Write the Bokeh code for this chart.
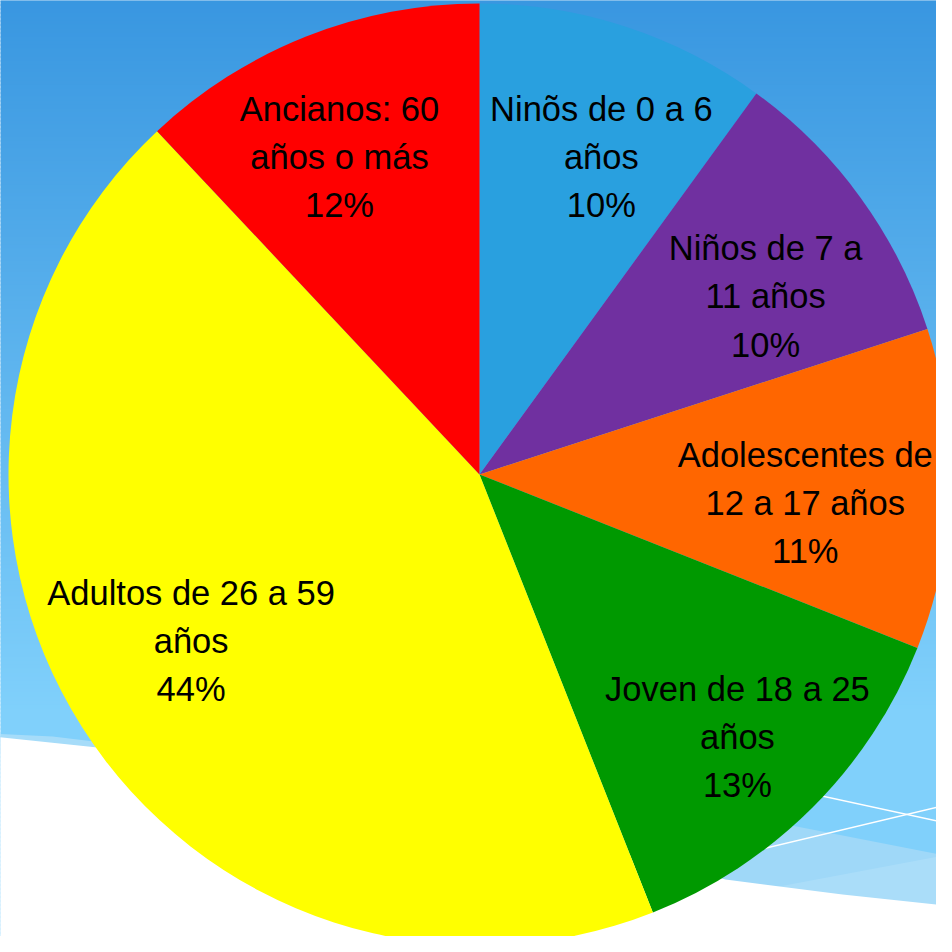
import math
from bokeh.plotting import figure
from bokeh.models import Range1d
from bokeh.core.properties import value
from bokeh.embed import file_html
from bokeh.resources import INLINE

# ---- data ----
categories = [
    "Ninõs de 0 a 6\naños",
    "Niños de 7 a\n11 años",
    "Adolescentes de\n12 a 17 años",
    "Joven de 18 a 25\naños",
    "Adultos de 26 a 59\naños",
    "Ancianos: 60\naños o más",
]
percentages = [10, 10, 11, 13, 44, 12]
colors = ["#29A0DF", "#7030A0", "#FF6600", "#009900", "#FFFF00", "#FF0000"]

# ---- layout / styling (reference pixel space, y flipped) ----
H = 952
def Y(yref):
    return H - yref

CX, CY, R = 487, Y(482), 471
# label placement: distance from centre and angular nudge (deg, clockwise) per slice
LABEL_R = [340, 337, 327, 368, 333, 347]
LABEL_NUDGE = [3.0, 4.1, 3.2, 0.5, 2.4, -2.2]

p = figure(width=936, height=936, output_backend="svg", toolbar_location=None,
           x_range=Range1d(8, 944), y_range=Range1d(8, 944), min_border=0)
p.axis.visible = False
p.grid.visible = False
p.outline_line_color = None
p.background_fill_color = "white"
p.border_fill_color = "white"

# background gradient
top = (56, 150, 224)
bot = (128, 208, 251)
step = 4
lefts, rights, tops, bottoms, cols = [], [], [], [], []
for yy in range(0, H, step):
    t = min(1.0, (yy + step / 2) / 720)
    c = tuple(int(round(a + (b - a) * t)) for a, b in zip(top, bot))
    lefts.append(0); rights.append(H)
    tops.append(Y(yy)); bottoms.append(Y(yy + step + 1))
    cols.append("#%02x%02x%02x" % c)
p.quad(left=lefts, right=rights, top=tops, bottom=bottoms, fill_color=cols, line_color=None)

# lighter bands
p.patch([600, 952, 952, 600], [Y(794), Y(863), Y(952), Y(952)], fill_color="#9FD8F8", line_color=None)
p.patch([600, 952, 952, 600], [Y(929), Y(863), Y(952), Y(952)], fill_color="#AADDF9", line_color=None)
p.patch([0, 60, 110, 110, 0], [Y(741), Y(744), Y(750), Y(760), Y(760)], fill_color="#A6DCF9", line_color=None)
# white wave
wx = [0, 105, 300, 500, 650, 733, 850, 952, 952, 0]
wy = [744, 755, 785, 825, 865, 887, 902, 913, 952, 952]
p.patch(wx, [Y(v) for v in wy], fill_color="white", line_color=None)
# thin white lines
p.line([700, 952], [Y(775.4), Y(830)], line_color="white", line_width=1.5)
p.line([700, 952], [Y(873), Y(813)], line_color="white", line_width=1.5)

# ---- pie ----
total = sum(percentages)
cum = [0.0]
for v in percentages:
    cum.append(cum[-1] + v / total)
starts = [math.pi / 2 - 2 * math.pi * cum[i + 1] for i in range(len(percentages))]
ends = [math.pi / 2 - 2 * math.pi * cum[i] for i in range(len(percentages))]
p.wedge(x=CX, y=CY, radius=R, start_angle=starts, end_angle=ends,
        direction="anticlock", fill_color=colors, line_color=None)

# labels
lx, ly, lt = [], [], []
for i, (name, v) in enumerate(zip(categories, percentages)):
    mid_cw = 360 * (cum[i] + cum[i + 1]) / 2 + LABEL_NUDGE[i]
    a = math.radians(90 - mid_cw)
    lx.append(CX + LABEL_R[i] * math.cos(a))
    ly.append(CY + LABEL_R[i] * math.sin(a))
    lt.append(f"{name}\n{v}%")
p.text(x=lx, y=ly, text=lt, text_font=value("Liberation Sans"),
       text_font_size="34.5px", text_align="center", text_baseline="middle",
       text_line_height=1.27, text_color="black")

open("out.html", "w").write(file_html(p, INLINE))
